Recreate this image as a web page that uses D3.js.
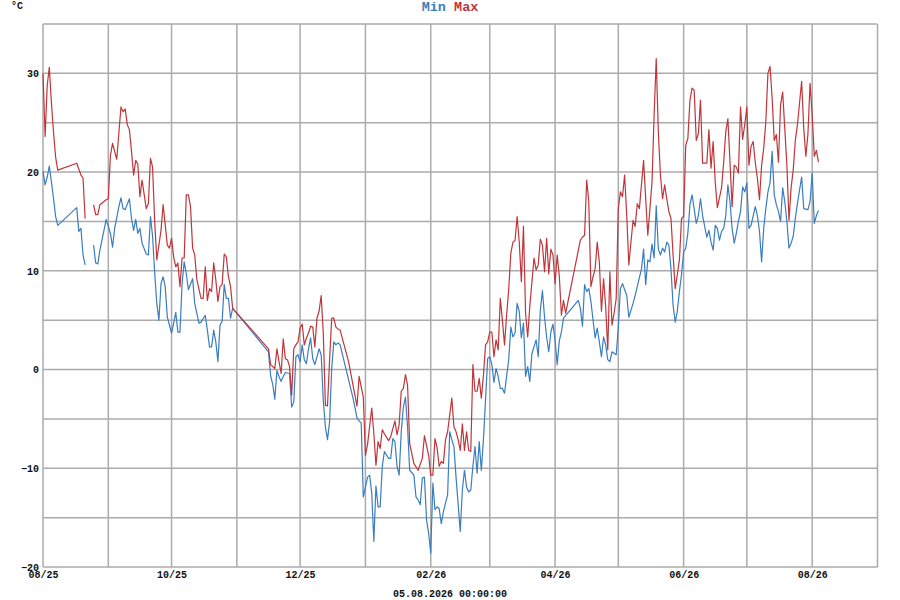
<!DOCTYPE html>
<html><head><meta charset="utf-8">
<script src="https://cdn.jsdelivr.net/npm/d3@7"></script>
<style>body{margin:0;background:#fff}svg{display:block}</style>
</head><body><svg id="chart" width="900" height="600"></svg>
<script>
// ---------- data ----------
const startDate = Date.UTC(2025, 7, 1);   // day 0 = 01.08.2025
const endDate = Date.UTC(2026, 8, 1);
// [day offset, daily maximum °C]; null = gap in the record
const maxData = [[0,30.0],[1,23.6],[2,28.8],[3,30.6],[4,27.0],[5,24.0],[6,21.5],[7,20.2],[16,20.9],[18,19.7],[19,19.4],[20,15.3],[22,null],
[24,16.7],[25,15.7],[26,15.7],[27,16.7],[30,17.2],[31,17.3],[32,21.7],[33,22.9],[35,21.3],[37,26.6],[38,26.1],[39,26.4],[40,24.8],[41,24.3],[42,22.1],[43,19.7],[44,21.2],[45,20.8],[46,17.5],[47,19.2],[49,16.3],[50,16.8],[51,21.4],[52,20.5],[53,15.0],[54,11.1],[55,12.6],[56,14.1],[57,16.7],[59,12.6],[60,12.3],[61,13.3],[62,11.4],[63,10.4],[64,10.8],[65,8.4],[66,11.3],[67,11.3],[68,17.7],[69,17.7],[70,16.5],[71,12.3],[72,11.6],[73,9.1],[75,7.2],[76,7.2],[77,10.4],[78,7.0],[79,8.2],[80,7.9],[81,10.8],[82,9.1],[83,6.9],[84,8.4],[85,8.6],[86,11.7],[87,11.4],[88,9.4],[89,8.4],[90,6.2],
[107,2.1],[108,0.5],[110,0.1],[111,2.1],[112,0.8],[113,-0.4],[114,3.1],[115,1.1],[116,1.0],[117,0.3],[118,-2.6],[119,2.1],[120,2.5],[121,2.8],[122,4.2],[123,4.6],[124,2.5],[125,3.2],[126,3.7],[127,4.4],[128,4.3],[129,2.3],[130,5.2],[131,5.9],[132,7.5],[133,3.7],[134,-3.6],[135,-3.7],[136,1.0],[137,5.2],[138,5.2],[139,4.3],[140,4.1],[141,4.0],[145,0.8],[149,-3.7],[150,-0.7],[152,-2.8],[153,-8.7],[154,-7.6],[156,-3.9],[157,-6.5],[158,-9.7],[159,-7.3],[160,-8.0],[161,-6.1],[162,-6.5],[164,-7.2],[165,-6.8],[167,-5.2],[168,-6.6],[169,-5.6],[170,-2.2],[171,-1.9],[172,-0.5],[173,-1.6],[174,-7.5],[176,-9.5],[178,-10.2],[180,-9.0],[181,-6.7],[183,-8.7],[184,-10.7],[185,-10.7],[186,-7.0],[187,-7.9],[188,-9.8],[189,-9.3],[190,-9.5],[191,-7.1],[192,-6.3],[194,-2.9],[195,-5.8],[196,-6.3],[197,-7.1],[198,-8.2],[199,-5.5],[200,-8.2],[201,-6.3],[202,-8.2],[203,-8.3],[204,0.5],[205,-2.2],[206,-2.2],[207,-0.9],[208,-2.9],[209,-0.6],[210,2.5],[211,2.8],[212,3.8],[213,3.8],[214,1.3],[215,3.0],[216,2.0],[217,7.2],[218,5.0],[219,2.5],[220,5.5],[221,8.1],[222,11.8],[223,12.9],[224,13.1],[225,15.5],[226,12.9],[227,8.9],[228,14.5],[229,5.7],[230,3.3],[231,6.4],[233,11.3],[234,10.1],[235,10.6],[236,13.2],[237,12.6],[238,9.9],[239,13.3],[240,9.7],[241,12.2],[242,11.6],[243,8.7],[244,11.6],[245,9.5],[246,5.5],[247,7.0],[248,5.7],
[255,13.1],[256,13.4],[257,13.6],[258,19.2],[259,17.0],[260,8.4],[261,9.4],[262,10.2],[263,12.9],[264,10.9],[265,5.9],[266,9.2],[267,6.4],[268,2.0],[269,9.9],[270,4.5],[271,5.7],[272,7.2],[273,16.3],[274,18.0],[275,17.5],[276,19.7],[277,15.6],[278,10.6],[279,12.9],[280,15.1],[281,14.5],[282,16.8],[283,16.3],[285,21.2],[286,17.3],[287,13.6],[289,19.0],[290,25.8],[291,31.5],[292,24.0],[293,19.7],[294,17.3],[295,18.7],[296,17.3],[297,16.0],[298,15.3],[299,11.6],[300,8.2],[301,9.6],[302,11.1],[303,15.3],[304,15.5],[305,22.7],[306,23.4],[307,27.3],[308,28.5],[309,28.3],[310,23.2],[311,23.9],[312,27.3],[313,20.9],[315,20.9],[316,24.3],[317,20.4],[318,23.1],[319,19.0],[320,16.4],[322,18.4],[323,21.0],[324,24.1],[325,25.4],[326,21.0],[327,16.5],[328,20.7],[329,20.5],[330,19.9],[331,26.6],[332,23.3],[333,24.8],[334,26.6],[335,20.7],[336,22.6],[337,23.1],[338,21.0],[339,19.4],[340,17.2],[341,20.7],[342,22.4],[343,25.1],[344,30.0],[345,30.7],[346,27.5],[347,23.2],[348,23.8],[349,21.0],[350,26.8],[351,28.1],[352,24.4],[353,20.7],[354,15.1],[355,18.4],[356,20.2],[357,23.2],[358,24.8],[360,29.2],[361,24.4],[362,21.6],[363,23.9],[364,29.0],[365,25.8],[366,21.6],[367,22.2],[368,21.0]];
// [day offset, daily minimum °C]
const minData = [[0,20.1],[1,18.7],[2,19.5],[3,20.6],[4,19.0],[5,17.3],[6,15.5],[7,14.6],[16,16.4],[17,14.0],[18,14.3],[19,11.6],[20,10.6],[22,null],
[24,12.6],[25,10.8],[26,10.7],[27,12.1],[30,15.2],[32,13.8],[33,12.4],[34,14.3],[36,16.5],[37,17.4],[38,16.3],[39,16.2],[41,17.3],[42,15.3],[43,14.1],[44,15.2],[45,13.8],[46,14.3],[47,12.8],[49,11.7],[50,11.6],[51,15.5],[52,13.5],[53,9.8],[54,6.7],[55,5.0],[56,8.7],[57,9.4],[58,8.4],[59,5.3],[61,3.7],[62,4.7],[63,5.8],[64,3.8],[65,3.8],[66,8.7],[67,10.9],[68,9.7],[69,8.1],[71,9.2],[72,6.7],[74,4.7],[75,4.8],[77,5.5],[78,4.0],[79,2.3],[80,2.3],[81,4.0],[82,2.8],[83,0.8],[84,4.5],[85,4.9],[86,8.6],[87,7.2],[88,7.2],[89,5.2],[90,6.2],
[107,1.8],[108,-0.6],[109,-1.5],[110,-3.0],[111,-0.1],[112,-0.7],[113,-1.2],[114,-0.7],[115,-0.3],[117,-0.4],[118,-3.8],[119,-3.3],[120,1.3],[121,1.5],[122,0.8],[123,2.5],[124,1.0],[125,0.6],[126,2.1],[127,3.2],[128,1.1],[129,0.5],[131,2.1],[132,1.5],[133,-3.1],[134,-5.8],[135,-7.1],[136,-5.3],[137,0.1],[138,2.8],[139,2.5],[140,2.7],[141,2.5],[147,-2.8],[148,-3.8],[149,-4.9],[150,-5.2],[151,-5.4],[152,-12.9],[153,-11.9],[154,-10.9],[155,-10.7],[156,-12.5],[157,-17.4],[158,-11.8],[159,-13.9],[160,-13.9],[161,-9.8],[162,-8.3],[164,-9.0],[165,-9.0],[166,-7.0],[167,-7.3],[168,-9.8],[169,-10.7],[170,-6.3],[171,-3.8],[172,-2.8],[173,-5.8],[174,-10.2],[176,-10.7],[177,-12.9],[178,-13.2],[179,-13.7],[180,-11.0],[181,-10.9],[182,-15.2],[183,-16.6],[184,-18.6],[185,-11.5],[186,-14.2],[187,-13.9],[188,-14.1],[189,-15.6],[190,-14.4],[192,-12.7],[193,-6.3],[194,-7.1],[195,-7.8],[196,-10.9],[198,-16.4],[199,-12.2],[200,-10.2],[201,-11.9],[202,-12.4],[203,-12.2],[204,-9.8],[205,-7.8],[206,-10.5],[207,-7.3],[208,-10.2],[209,-7.1],[210,-3.1],[211,1.1],[212,1.3],[213,0.5],[214,-1.3],[215,0.1],[216,-0.7],[217,-1.9],[218,-1.9],[219,-2.4],[220,-0.7],[221,1.0],[222,4.3],[223,3.3],[224,3.7],[225,6.7],[226,5.9],[227,3.2],[228,4.7],[229,-0.7],[230,0.3],[231,-1.2],[232,1.6],[234,3.0],[235,1.3],[236,6.0],[237,8.0],[238,5.3],[239,3.3],[240,1.8],[241,3.8],[242,4.6],[243,3.0],[244,0.5],[245,2.9],[246,3.8],[247,5.2],
[254,7.0],[255,6.2],[256,4.4],[257,8.6],[258,7.9],[259,8.2],[260,6.9],[262,3.2],[263,4.2],[264,2.8],[265,1.3],[266,3.3],[267,2.5],[268,1.0],[269,0.8],[270,1.8],[272,1.5],[273,4.2],[274,8.2],[275,8.7],[277,7.5],[278,5.3],[280,6.7],[281,7.5],[282,8.4],[284,10.2],[285,12.2],[286,8.6],[287,11.1],[288,10.9],[289,12.7],[290,11.3],[291,16.6],[292,12.2],[293,11.6],[294,12.3],[295,11.9],[296,12.9],[297,12.6],[298,10.2],[299,6.5],[300,4.8],[301,5.9],[302,7.9],[303,9.6],[304,11.9],[305,12.3],[306,13.8],[307,16.7],[308,17.7],[309,16.3],[310,14.8],[311,15.6],[312,17.3],[313,15.6],[315,13.4],[316,14.1],[317,12.9],[318,12.1],[319,14.6],[320,14.3],[321,13.1],[322,14.0],[323,14.3],[324,15.6],[325,18.7],[326,17.0],[327,14.3],[328,12.8],[329,13.8],[330,15.0],[331,16.0],[332,18.5],[333,18.0],[334,18.9],[335,14.3],[336,14.6],[338,16.5],[339,15.6],[340,14.0],[341,10.9],[342,14.3],[343,16.3],[344,18.0],[345,18.9],[346,22.1],[347,17.7],[348,16.7],[349,16.0],[350,15.0],[351,18.4],[352,17.0],[353,15.0],[354,12.3],[355,12.8],[356,13.5],[357,15.3],[358,16.8],[360,19.5],[361,16.3],[363,16.2],[364,17.0],[365,19.9],[366,14.8],[367,15.6],[368,16.1]];

const seriesNames = ["Min", "Max"];
const seriesColors = ["#3a7dbf", "#c0353a"];
const yTickValues = [-20, -10, 0, 10, 20, 30];
const xTickLabels = ["08/25", "10/25", "12/25", "02/26", "04/26", "06/26", "08/26"];
const yDomain = [-20, 35];
const unitLabel = "°C";
const footerText = "05.08.2026 00:00:00";

// ---------- chart ----------
const W = 900, H = 600;
const M = {left: 43, right: 22.5, top: 24, bottom: 33};
const DAY = 86400000;
const toDate = d => new Date(startDate + d * DAY);

const svg = d3.select("#chart");
const x = d3.scaleUtc().domain([new Date(startDate), new Date(endDate)]).range([M.left, W - M.right]);
const y = d3.scaleLinear().domain(yDomain).range([H - M.bottom, M.top]);

const FONT = "'Liberation Mono','DejaVu Sans Mono',monospace";
const gridColor = "#ababab";

// grid: monthly verticals, 5° horizontals
const months = d3.utcMonth.range(new Date(startDate), new Date(endDate + 1));
const grid = svg.append("g");
grid.selectAll("line.v").data(months)
  .join("line").attr("class", "v")
  .attr("x1", d => x(d)).attr("x2", d => x(d))
  .attr("y1", y(yDomain[0])).attr("y2", y(yDomain[1]))
  .attr("stroke", gridColor).attr("stroke-width", 1.5);
grid.selectAll("line.h").data(d3.range(yDomain[0], yDomain[1] + 0.1, 5))
  .join("line").attr("class", "h")
  .attr("x1", x.range()[0]).attr("x2", x.range()[1])
  .attr("y1", d => y(d)).attr("y2", d => y(d))
  .attr("stroke", gridColor).attr("stroke-width", 1.5);

// y axis labels
const yAxis = d3.axisLeft(y).tickValues(yTickValues).tickSize(0).tickPadding(4);
const gy = svg.append("g").attr("transform", `translate(${M.left},0)`).call(yAxis);
gy.select(".domain").remove();
gy.selectAll("text").attr("font-family", FONT).attr("font-size", 10)
  .attr("font-weight", "bold").attr("fill", "#111");

// x axis labels (every second month, starting Aug 2025)
const xTicks = months.filter((d, i) => i % 2 === 0).slice(0, xTickLabels.length);
const xAxis = d3.axisBottom(x).tickValues(xTicks).tickFormat((d, i) => xTickLabels[i]).tickSize(0).tickPadding(4);
const gx = svg.append("g").attr("transform", `translate(0,${H - M.bottom})`).call(xAxis);
gx.select(".domain").remove();
gx.selectAll("text").attr("font-family", FONT).attr("font-size", 10)
  .attr("font-weight", "bold").attr("fill", "#111");

// series
const line = d3.line().defined(d => d[1] != null).x(d => x(toDate(d[0]))).y(d => y(d[1]));
[minData, maxData].forEach((data, i) => {
  svg.append("path").datum(data).attr("d", line)
    .attr("fill", "none").attr("stroke", seriesColors[i])
    .attr("stroke-width", 1.2).attr("stroke-linejoin", "round");
});

// title / legend
const title = svg.append("text").attr("x", W / 2).attr("y", 11)
  .attr("text-anchor", "middle").attr("font-family", FONT)
  .attr("font-size", 13.5).attr("font-weight", "bold");
seriesNames.forEach((n, i) => {
  title.append("tspan").text((i ? " " : "") + n).attr("fill", seriesColors[i]);
});

// unit
svg.append("text").attr("x", 11).attr("y", 9).text(unitLabel)
  .attr("font-family", FONT).attr("font-size", 10).attr("font-weight", "bold").attr("fill", "#111");

// footer
svg.append("text").attr("x", W / 2).attr("y", 597).attr("text-anchor", "middle").text(footerText)
  .attr("font-family", FONT).attr("font-size", 10).attr("font-weight", "bold").attr("fill", "#111");
</script>
</body></html>
